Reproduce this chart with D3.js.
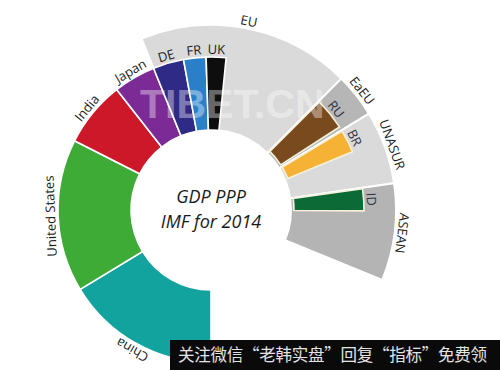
<!DOCTYPE html>
<html><head><meta charset="utf-8">
<script src="https://cdn.jsdelivr.net/npm/d3@7/dist/d3.min.js"></script>
<style>body{margin:0;background:#fff} svg{display:block}</style>
</head><body>
<svg id="c" width="500" height="370"></svg>
<script>
// ---- data (GDP PPP, trillion int$) ----
const worldGdp = 107.8;
const countries   = ["China", "United States", "India", "Japan", "DE", "FR", "UK"];
const countryGdp  = [17.6, 17.4, 7.5, 4.8, 3.5, 2.55, 2.25];
const countryColors = ["#12a39e", "#3eab37", "#cc1828", "#7c2a96", "#2f2a86", "#2b7fc9", "#0e0e0e"];
const regions     = ["EU", "EaEU", "UNASUR", "ASEAN"];
const regionGdp   = [20.0, 4.15, 6.9, 9.15];
const regionColors = ["#dadada", "#b6b6b6", "#dadada", "#b4b4b4"];
const regionFirstMember = "DE"; // EU sector starts with Germany
const members     = ["RU", "BR", "ID"];
const memberOf    = ["EaEU", "UNASUR", "ASEAN"];
const memberGdp   = [3.6, 2.6, 2.5];
const memberColors = ["#7a4a1f", "#f5b234", "#0c6a37"];
const titleLines  = ["GDP PPP", "IMF for 2014"];

// ---- layout ----
const cx = 211, cy = 210;
const rIn = 80, rBar = 153, rMemberIn = 83, rRegion = 185;
const memberPad = 0.006;

const svg = d3.select("#c");
const g = svg.append("g").attr("transform", `translate(${cx},${cy})`);
const angle = d3.scaleLinear().domain([0, worldGdp]).range([Math.PI, 3 * Math.PI]);
const deg = a => a * 180 / Math.PI;

const cCum = d3.cumsum(countryGdp);
const cStart = countryGdp.map((v, i) => i === 0 ? 0 : cCum[i - 1]);
const rStart = [];
regionGdp.forEach((v, i) => {
  rStart.push(i === 0 ? cStart[countries.indexOf(regionFirstMember)] : rStart[i - 1] + regionGdp[i - 1]);
});
const mStart = members.map((m, i) => rStart[regions.indexOf(memberOf[i])]);

// regions
const regionArc = d3.arc().innerRadius(rIn).outerRadius(rRegion);
g.selectAll("path.region").data(regions).join("path")
  .attr("class", "region")
  .attr("d", (d, i) => regionArc({startAngle: angle(rStart[i]), endAngle: angle(rStart[i] + regionGdp[i])}))
  .attr("fill", (d, i) => regionColors[i])
  .attr("stroke", "#fff").attr("stroke-width", 2);

// countries
const countryArc = d3.arc().innerRadius(rIn).outerRadius(rBar);
g.selectAll("path.country").data(countries).join("path")
  .attr("class", "country")
  .attr("d", (d, i) => countryArc({startAngle: angle(cStart[i]), endAngle: angle(cStart[i] + countryGdp[i])}))
  .attr("fill", (d, i) => countryColors[i])
  .attr("stroke", "#fff").attr("stroke-width", 1.6);

// members inside regions
const memberArc = d3.arc().innerRadius(rMemberIn).outerRadius(rBar);
g.selectAll("path.member").data(members).join("path")
  .attr("class", "member")
  .attr("d", (d, i) => memberArc({startAngle: angle(mStart[i]) + memberPad, endAngle: angle(mStart[i] + memberGdp[i]) + memberPad}))
  .attr("fill", (d, i) => memberColors[i])
  .attr("stroke", "#f4f1dc").attr("stroke-width", 1.6);

// labels
const labelFont = "'Open Sans', 'Noto Sans', sans-serif";
function label(text, a, r, color) {
  g.append("text")
    .attr("transform", `rotate(${deg(a)}) translate(0,${-r})`)
    .attr("text-anchor", "middle")
    .attr("font-family", labelFont)
    .attr("font-size", 13)
    .attr("fill", color)
    .text(text);
}
countries.forEach((c, i) => label(c, angle(cStart[i] + countryGdp[i] / 2), rBar + 3, "#1c1c1c"));
regions.forEach((c, i) => label(c, angle(rStart[i] + regionGdp[i] / 2), rRegion + 3, "#1c1c1c"));
members.forEach((c, i) => label(c, angle(mStart[i] + memberGdp[i] / 2) + memberPad, rBar + 3, "#333344"));

// center title
g.selectAll("text.title").data(titleLines).join("text")
  .attr("class", "title")
  .attr("x", 0).attr("y", (d, i) => -7 + i * 25)
  .attr("text-anchor", "middle")
  .attr("font-family", labelFont)
  .attr("font-style", "italic")
  .attr("font-size", 18)
  .attr("fill", "#1a1a1a")
  .text(d => d);

// watermark
svg.append("text")
  .attr("x", 140).attr("y", 118)
  .attr("font-family", "'Liberation Sans', Arial, sans-serif")
  .attr("font-weight", "bold")
  .attr("font-size", 41)
  .attr("fill", "#ffffff").attr("fill-opacity", 0.4)
  .text("TIBET.CN");

// bottom banner
svg.append("rect").attr("x", 170).attr("y", 340).attr("width", 330).attr("height", 30).attr("fill", "#0a0a0a");
svg.append("text")
  .attr("x", 178).attr("y", 361)
  .attr("font-family", "'Noto Sans CJK SC', sans-serif")
  .attr("font-size", 16.5)
  .attr("fill", "#e4e4e4")
  .attr("textLength", 309).attr("lengthAdjust", "spacing")
  .text("关注微信“老韩实盘”回复“指标”免费领");
</script>
</body></html>
